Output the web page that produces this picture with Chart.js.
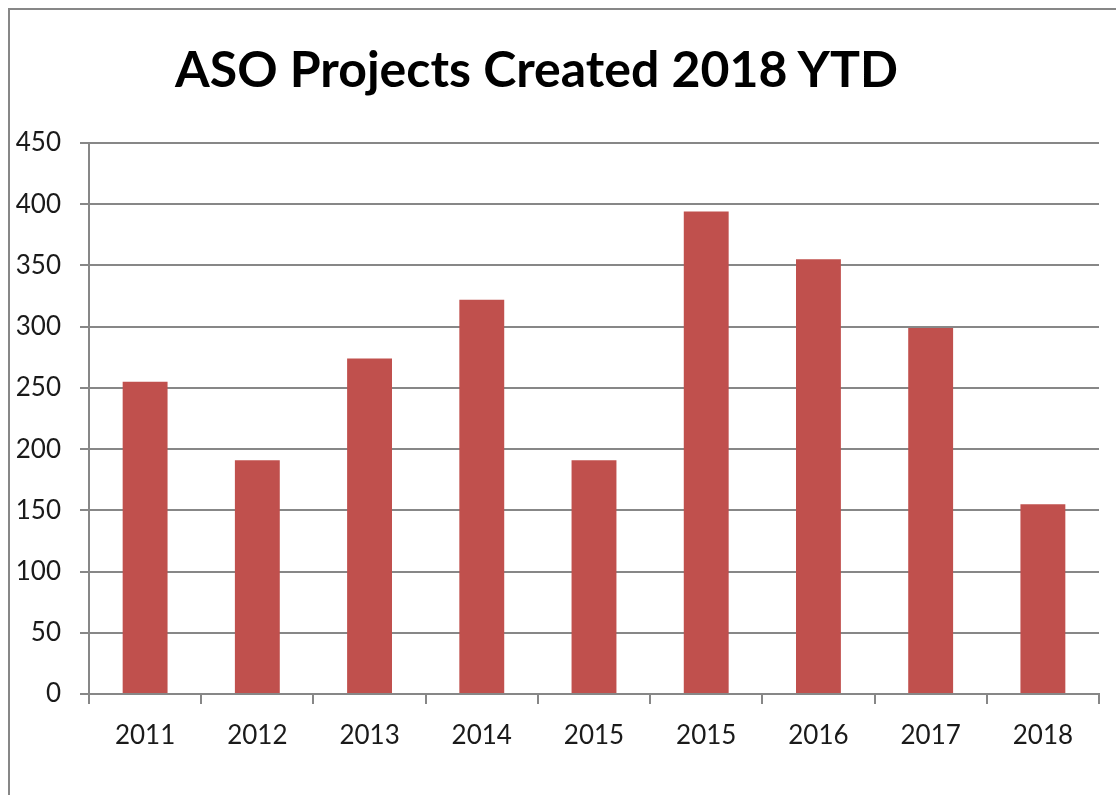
<!DOCTYPE html>
<html>
<head>
<meta charset="utf-8">
<script src="https://cdn.jsdelivr.net/npm/chart.js@4/dist/chart.umd.min.js"></script>
<style>
  html, body { margin: 0; padding: 0; background: #fff; }
  #wrap { position: relative; width: 1116px; height: 795px; overflow: hidden; }
  #frame { position: absolute; left: 8px; top: 8px; width: 1200px; height: 900px;
           border-left: 2px solid #878787; border-top: 2px solid #878787; pointer-events: none; }
  #title { position: absolute; left: 0; top: 43px; width: 1073px; text-align: center;
           font-family: Lato, "Open Sans", sans-serif; font-weight: bold; font-size: 50px;
           line-height: 1; color: #000; white-space: nowrap; }
  #cv { position: absolute; left: 0; top: 0; }
</style>
</head>
<body>
<div id="wrap">
  <div id="frame"></div>
  <div id="title">ASO Projects Created 2018 YTD</div>
  <canvas id="cv" width="1116" height="795"></canvas>
</div>
<script>
const categories = ["2011", "2012", "2013", "2014", "2015", "2015", "2016", "2017", "2018"];
const projectsCreated = [255, 191, 274, 322, 191, 394, 355, 299, 155];
const yTicks = [0, 50, 100, 150, 200, 250, 300, 350, 400, 450];

const gray = '#878787';
new Chart(document.getElementById('cv'), {
  type: 'bar',
  data: {
    labels: categories,
    datasets: [{
      data: projectsCreated,
      backgroundColor: '#C0504D',
      borderWidth: 0,
      categoryPercentage: 1.0,
      barPercentage: 0.4
    }]
  },
  options: {
    responsive: false,
    devicePixelRatio: 1,
    animation: false,
    layout: { padding: { left: 0, right: 17, top: 143, bottom: 0 } },
    plugins: { legend: { display: false }, title: { display: false }, tooltip: { enabled: false } },
    scales: {
      x: {
        grid: { offset: true, drawOnChartArea: false, drawTicks: true, tickLength: 10, color: gray, lineWidth: 2 },
        border: { display: true, color: gray, width: 2 },
        ticks: { color: '#1a1a1a', padding: 16, font: { family: 'Lato', size: 26 } },
        afterFit: s => { s.height = 101; }
      },
      y: {
        min: 0, max: 450,
        afterBuildTicks: s => { s.ticks = yTicks.map(v => ({ value: v })); },
        grid: { drawOnChartArea: true, drawTicks: true, tickLength: 9, color: gray, lineWidth: 2 },
        border: { display: true, color: gray, width: 2 },
        ticks: { color: '#1a1a1a', padding: 19, font: { family: 'Lato', size: 26 } },
        afterFit: s => { s.width = 89; }
      }
    }
  }
});
</script>
</body>
</html>
